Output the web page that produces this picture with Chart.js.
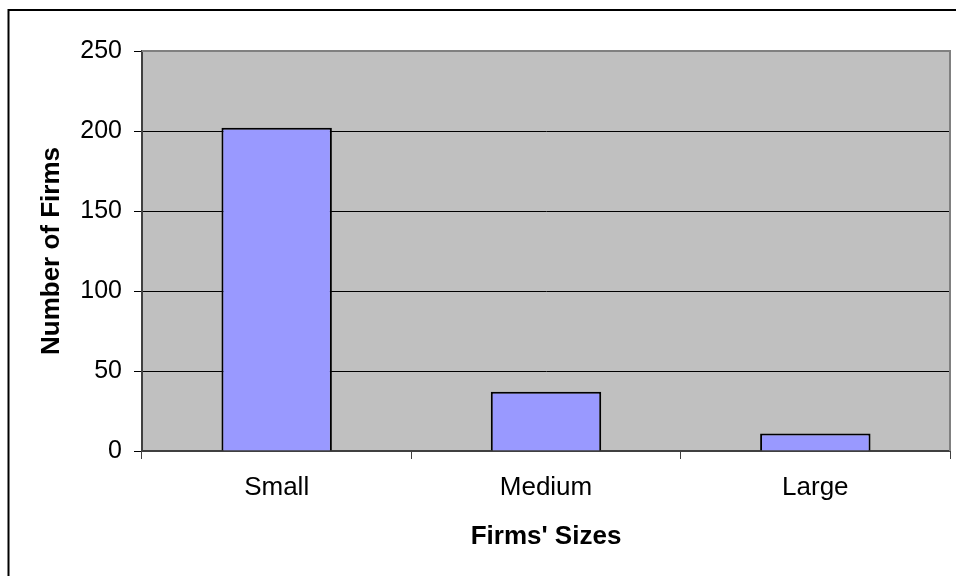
<!DOCTYPE html>
<html>
<head>
<meta charset="utf-8">
<script src="https://cdn.jsdelivr.net/npm/chart.js@4/dist/chart.umd.min.js"></script>
<style>
html,body{margin:0;padding:0;background:#fff;}
#wrap{position:absolute;left:0;top:0;width:956px;height:576px;}
</style>
</head>
<body>
<div id="wrap"><canvas id="c" width="956" height="576"></canvas></div>
<script>
const categories = ["Small", "Medium", "Large"];
const firmCounts = [202, 37, 11];
const yTicks = [0, 50, 100, 150, 200, 250];
const xTitle = "Firms' Sizes";
const yTitle = "Number of Firms";

const bgPlugin = {
  id: 'bg',
  beforeDraw(chart) {
    const {ctx, chartArea: a} = chart;
    ctx.save();
    ctx.fillStyle = '#fff';
    ctx.fillRect(0, 0, chart.width, chart.height);
    ctx.fillStyle = '#C0C0C0';
    ctx.fillRect(a.left, a.top, a.right - a.left, a.bottom - a.top);
    ctx.restore();
  },
  afterDatasetsDraw(chart) {
    const {ctx, chartArea: a} = chart;
    ctx.save();
    ctx.strokeStyle = '#808080';
    ctx.lineWidth = 2;
    ctx.beginPath();
    ctx.moveTo(a.left, a.top);
    ctx.lineTo(a.right, a.top);
    ctx.lineTo(a.right, a.bottom);
    ctx.stroke();
    ctx.restore();
  },
  afterDraw(chart) {
    const {ctx} = chart;
    ctx.save();
    ctx.strokeStyle = '#000';
    ctx.lineWidth = 2;
    ctx.beginPath();
    ctx.moveTo(8.5, 580);
    ctx.lineTo(8.5, 10);
    ctx.lineTo(960, 10);
    ctx.stroke();
    ctx.restore();
  }
};

new Chart(document.getElementById('c'), {
  type: 'bar',
  data: {
    labels: categories,
    datasets: [{
      data: firmCounts,
      backgroundColor: '#9999FF',
      borderColor: '#000',
      borderWidth: 2,
      barPercentage: 0.41,
      categoryPercentage: 1.0
    }]
  },
  options: {
    responsive: false,
    animation: false,
    devicePixelRatio: 1,
    layout: {padding: {left: 0, top: 51, right: 6, bottom: 0}},
    plugins: {legend: {display: false}, tooltip: {enabled: false}},
    scales: {
      x: {
        afterFit(s) { s.height = 125; },
        grid: {offset: true, drawOnChartArea: false, color: '#404040', tickLength: 8, lineWidth: 1},
        border: {color: '#404040', width: 2},
        ticks: {color: '#000', font: {family: 'Liberation Sans, Arial', size: 26}, padding: 13},
        title: {display: true, text: xTitle, color: '#000', font: {family: 'Liberation Sans, Arial', size: 26, weight: 'bold'}, padding: {top: 0, bottom: 24}}
      },
      y: {
        min: 0, max: 250,
        afterFit(s) { s.width = 142; },
        afterBuildTicks(s) { s.ticks = yTicks.map(v => ({value: v})); },
        grid: {color: '#000', tickLength: 8, lineWidth: 1},
        border: {color: '#404040', width: 2},
        ticks: {color: '#000', font: {family: 'Liberation Sans, Arial', size: 25}, padding: 12},
        title: {display: true, text: yTitle, color: '#000', font: {family: 'Liberation Sans, Arial', size: 26, weight: 'bold'}, padding: {top: 36, bottom: 0}}
      }
    }
  },
  plugins: [bgPlugin]
});
</script>
</body>
</html>
